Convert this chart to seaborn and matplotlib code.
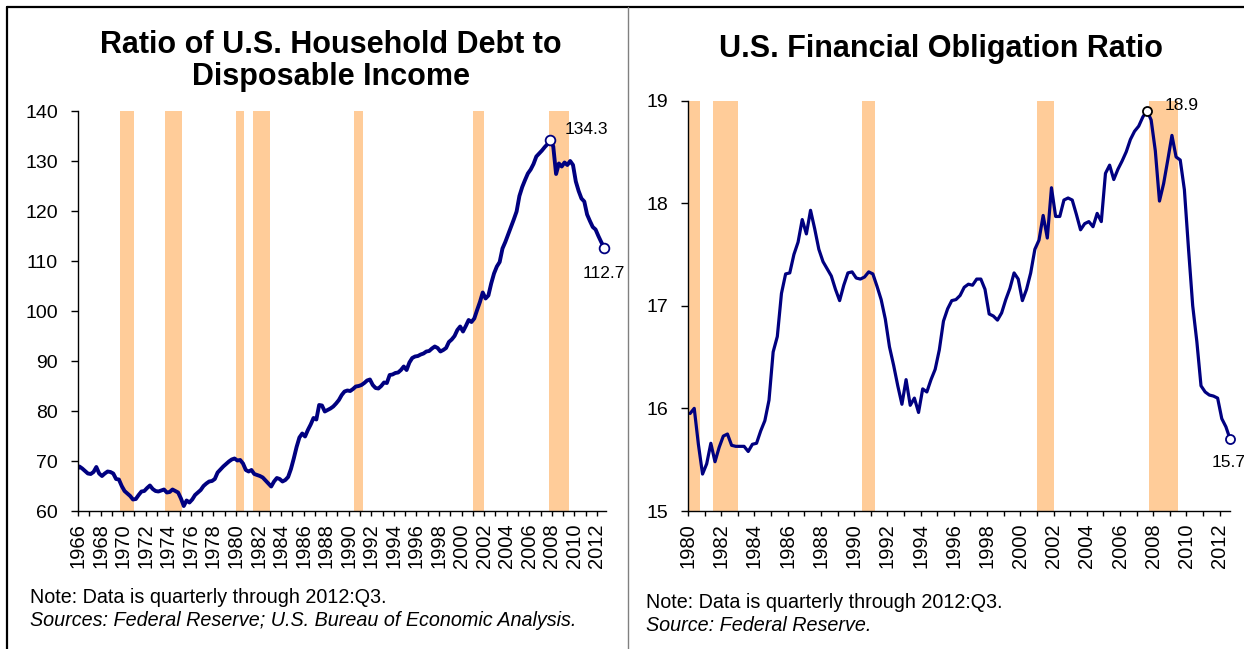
import matplotlib
matplotlib.use("Agg")
import matplotlib.pyplot as plt
from matplotlib.lines import Line2D
from matplotlib.ticker import MultipleLocator, FuncFormatter, FixedLocator
import seaborn as sns

# ---------------------------------------------------------------------------
# Data
# ---------------------------------------------------------------------------
# Household debt as a percent of disposable income, quarterly from 1965:Q4
debt_start = (1965, 4)
debt_ratio = [
    68.2,
    68.9, 68.5, 68.0, 67.5,      # 1966
    67.4, 67.8, 68.8, 67.5,      # 1967
    67.0, 67.5, 67.9, 67.8,      # 1968
    67.5, 66.4, 66.3, 65.0,      # 1969
    64.0, 63.5, 63.0, 62.3,      # 1970
    62.4, 63.2, 63.9, 64.0,      # 1971
    64.6, 65.1, 64.4, 64.0,      # 1972
    63.9, 64.1, 64.3, 63.7,      # 1973
    63.8, 64.3, 64.0, 63.7,      # 1974
    62.5, 61.0, 62.1, 61.7,      # 1975
    62.3, 63.2, 63.7, 64.2,      # 1976
    65.0, 65.5, 65.9, 66.0,      # 1977
    66.4, 67.7, 68.3, 68.9,      # 1978
    69.4, 69.9, 70.3, 70.5,      # 1979
    70.1, 70.2, 69.5, 68.2,      # 1980
    67.9, 68.2, 67.4, 67.2,      # 1981
    67.0, 66.7, 66.1, 65.5,      # 1982
    64.9, 65.9, 66.6, 66.4,      # 1983
    65.9, 66.2, 66.8, 68.4,      # 1984
    70.5, 72.8, 74.7, 75.5,      # 1985
    74.9, 76.2, 77.3, 78.6,      # 1986
    78.3, 81.2, 81.1, 79.9,      # 1987
    80.2, 80.5, 80.9, 81.5,      # 1988
    82.2, 83.2, 83.9, 84.1,      # 1989
    84.0, 84.4, 84.9, 85.0,      # 1990
    85.2, 85.6, 86.1, 86.3,      # 1991
    85.2, 84.6, 84.5, 85.0,      # 1992
    85.7, 85.6, 87.2, 87.3,      # 1993
    87.6, 87.7, 88.2, 88.9,      # 1994
    88.2, 89.7, 90.6, 90.9,      # 1995
    91.0, 91.3, 91.5, 91.9,      # 1996
    92.0, 92.5, 92.9, 92.6,      # 1997
    91.9, 92.2, 92.6, 93.8,      # 1998
    94.3, 95.0, 96.2, 96.9,      # 1999
    95.9, 97.0, 98.2, 97.8,      # 2000
    98.5, 100.2, 101.8, 103.7,   # 2001
    102.5, 103.1, 105.5, 107.5,  # 2002
    108.9, 109.8, 112.5, 113.8,  # 2003
    115.3, 116.8, 118.3, 119.9,  # 2004
    123.0, 124.8, 126.2, 127.5,  # 2005
    128.3, 129.4, 130.9, 131.5,  # 2006
    132.1, 132.8, 133.4, 134.3,  # 2007
    132.9, 127.4, 129.5, 128.9,  # 2008
    129.7, 129.2, 130.0, 129.2,  # 2009
    125.9, 124.0, 122.5, 121.9,  # 2010
    119.3, 118.0, 116.8, 116.3,  # 2011
    115.0, 113.8, 112.7,         # 2012
]

# Financial obligation ratio, quarterly from 1980:Q1
fin_start = (1980, 1)
fin_ratio = [
    15.95, 16.00, 15.65, 15.36,  # 1980
    15.46, 15.66, 15.48, 15.62,  # 1981
    15.73, 15.75, 15.64, 15.63,  # 1982
    15.63, 15.63, 15.58, 15.65,  # 1983
    15.66, 15.78, 15.88, 16.08,  # 1984
    16.55, 16.70, 17.12, 17.31,  # 1985
    17.32, 17.50, 17.62, 17.84,  # 1986
    17.70, 17.93, 17.75, 17.55,  # 1987
    17.43, 17.36, 17.29, 17.16,  # 1988
    17.05, 17.20, 17.32, 17.33,  # 1989
    17.27, 17.26, 17.28, 17.33,  # 1990
    17.31, 17.19, 17.06, 16.87,  # 1991
    16.60, 16.42, 16.22, 16.04,  # 1992
    16.28, 16.03, 16.10, 15.96,  # 1993
    16.19, 16.16, 16.28, 16.38,  # 1994
    16.57, 16.85, 16.97, 17.05,  # 1995
    17.06, 17.10, 17.18, 17.21,  # 1996
    17.20, 17.26, 17.26, 17.16,  # 1997
    16.92, 16.90, 16.86, 16.93,  # 1998
    17.06, 17.17, 17.32, 17.26,  # 1999
    17.05, 17.16, 17.32, 17.55,  # 2000
    17.64, 17.88, 17.66, 18.15,  # 2001
    17.87, 17.87, 18.03, 18.05,  # 2002
    18.03, 17.89, 17.74, 17.80,  # 2003
    17.82, 17.77, 17.90, 17.82,  # 2004
    18.29, 18.37, 18.23, 18.33,  # 2005
    18.41, 18.50, 18.62, 18.70,  # 2006
    18.75, 18.84, 18.90, 18.81,  # 2007
    18.51, 18.02, 18.19, 18.42,  # 2008
    18.66, 18.45, 18.42, 18.13,  # 2009
    17.55, 17.00, 16.65, 16.22,  # 2010
    16.16, 16.13, 16.12, 16.10,  # 2011
    15.90, 15.82, 15.70,         # 2012
]

# NBER recessions (first and last quarter)
recession_first = ["1969Q4", "1973Q4", "1980Q1", "1981Q3", "1990Q3", "2001Q1", "2007Q4"]
recession_last = ["1970Q4", "1975Q1", "1980Q3", "1982Q4", "1991Q1", "2001Q4", "2009Q2"]

debt_yticks = [60, 70, 80, 90, 100, 110, 120, 130, 140]
fin_yticks = [15, 16, 17, 18, 19]

left_title = ["Ratio of U.S. Household Debt to", "Disposable Income"]
right_title = "U.S. Financial Obligation Ratio"
note_text = "Note: Data is quarterly through 2012:Q3."
left_source = "Sources: Federal Reserve; U.S. Bureau of Economic Analysis."
right_source = "Source: Federal Reserve."

# ---------------------------------------------------------------------------
# Helpers
# ---------------------------------------------------------------------------
NAVY = "#000080"
PEACH = "#FFCC99"


def quarter_series(start, n):
    """Mid-quarter decimal years for n consecutive quarters."""
    y, q = start
    out = []
    for _ in range(n):
        out.append(y + (q - 0.5) / 4)
        q += 1
        if q > 4:
            y, q = y + 1, 1
    return out


def parse_q(label):
    y, q = label.split("Q")
    return int(y), int(q)


def quarter_begin(label):
    y, q = parse_q(label)
    return y + (q - 1) / 4


def quarter_end(label):
    y, q = parse_q(label)
    return y + q / 4


# ---------------------------------------------------------------------------
# Figure
# ---------------------------------------------------------------------------
sns.set_theme(style="ticks")
plt.rcParams["font.family"] = ["Liberation Sans", "DejaVu Sans"]
plt.rcParams["axes.linewidth"] = 1.0

W, H = 1244, 649
fig = plt.figure(figsize=(W / 100, H / 100), dpi=100)
fig.patch.set_facecolor("white")


def fx(px):
    return px / W


def fy(py):
    return 1 - py / H


ax1 = fig.add_axes([fx(78), fy(511), fx(606) - fx(78), fy(111) - fy(511)])
ax2 = fig.add_axes([fx(688), fy(511), fx(1230) - fx(688), fy(100.5) - fy(511)])


def style_axis(ax, xlim, ylim, yticks):
    for first, last in zip(recession_first, recession_last):
        ax.axvspan(quarter_begin(first), quarter_end(last), color=PEACH, lw=0, zorder=0)
    ax.set_xlim(*xlim)
    ax.set_ylim(*ylim)
    ax.xaxis.set_major_locator(MultipleLocator(2))
    ax.xaxis.set_minor_locator(MultipleLocator(1))
    ax.xaxis.set_major_formatter(FuncFormatter(lambda v, p: f"{int(round(v))}"))
    ax.yaxis.set_major_locator(FixedLocator(yticks))
    ax.yaxis.set_major_formatter(FuncFormatter(lambda v, p: f"{int(round(v))}"))
    ax.tick_params(axis="x", which="both", direction="out", length=3.8, width=1.0,
                   color="black", pad=5, labelsize=14.5, labelrotation=90,
                   labelcolor="black")
    ax.tick_params(axis="y", which="major", direction="out", length=5.4, width=1.0,
                   color="black", pad=9, labelsize=14, labelcolor="black")
    for side in ("top", "right"):
        ax.spines[side].set_visible(False)
    for side in ("left", "bottom"):
        ax.spines[side].set_color("black")
        ax.spines[side].set_linewidth(1.0)
        ax.spines[side].set_zorder(4)
    ax.set_xlabel("")
    ax.set_ylabel("")
    ax.grid(False)
    ax.set_facecolor("white")


# Left panel: household debt to disposable income
debt_x = quarter_series(debt_start, len(debt_ratio))
style_axis(ax1, (1966, 2012.8), (60, 140), debt_yticks)
sns.lineplot(x=debt_x, y=debt_ratio, ax=ax1, color=NAVY, linewidth=2.8, zorder=3)

peak_i = max(range(len(debt_ratio)), key=lambda i: debt_ratio[i])
for i, (dx, dy, ha) in ((peak_i, (14, 10, "left")), (len(debt_ratio) - 1, (0, -26, "center"))):
    ax1.plot([debt_x[i]], [debt_ratio[i]], "o", ms=7, mfc="white", mec=NAVY,
             mew=1.3, zorder=5, clip_on=False)
    ax1.annotate(f"{debt_ratio[i]:.1f}", (debt_x[i], debt_ratio[i]),
                 xytext=(dx, dy), textcoords="offset pixels", ha=ha, va="center",
                 fontsize=12.5, color="black", annotation_clip=False)

# Right panel: financial obligation ratio
fin_x = quarter_series(fin_start, len(fin_ratio))
style_axis(ax2, (1980, 2012.62), (15, 19), fin_yticks)
sns.lineplot(x=fin_x, y=fin_ratio, ax=ax2, color=NAVY, linewidth=2.3, zorder=3)

peak_j = max(range(len(fin_ratio)), key=lambda i: fin_ratio[i])
for j, (dx, dy, ha, edge) in ((peak_j, (18, 5, "left", "black")),
                              (len(fin_ratio) - 1, (-18, -23, "left", NAVY))):
    ax2.plot([fin_x[j]], [fin_ratio[j]], "o", ms=6.5, mfc="white", mec=edge,
             mew=1.3, zorder=5, clip_on=False)
    ax2.annotate(f"{fin_ratio[j]:.1f}", (fin_x[j], fin_ratio[j]),
                 xytext=(dx, dy), textcoords="offset pixels", ha=ha, va="center",
                 fontsize=12.5, color="black", annotation_clip=False)

# Titles
fig.text(fx(331), fy(53), left_title[0], ha="center", va="baseline",
         fontsize=22, fontweight="bold", color="black")
fig.text(fx(331), fy(85), left_title[1], ha="center", va="baseline",
         fontsize=22, fontweight="bold", color="black")
fig.text(fx(941), fy(57), right_title, ha="center", va="baseline",
         fontsize=22, fontweight="bold", color="black")

# Notes and sources
fig.text(fx(30), fy(603), note_text, ha="left", va="baseline", fontsize=14.2, color="black")
fig.text(fx(30), fy(626), left_source, ha="left", va="baseline", fontsize=14.2,
         style="italic", color="black")
fig.text(fx(646), fy(608), note_text, ha="left", va="baseline", fontsize=14.2, color="black")
fig.text(fx(646), fy(631), right_source, ha="left", va="baseline", fontsize=14.2,
         style="italic", color="black")

# Outer frame and panel divider
fig.add_artist(Line2D([fx(7), 1], [fy(7), fy(7)], color="black", lw=1.6))
fig.add_artist(Line2D([fx(7), fx(7)], [fy(7), 0], color="black", lw=1.6))
fig.add_artist(Line2D([fx(628), fx(628)], [fy(7), 0], color="#808080", lw=1.0))

fig.savefig("out.png", dpi=100, facecolor="white")
